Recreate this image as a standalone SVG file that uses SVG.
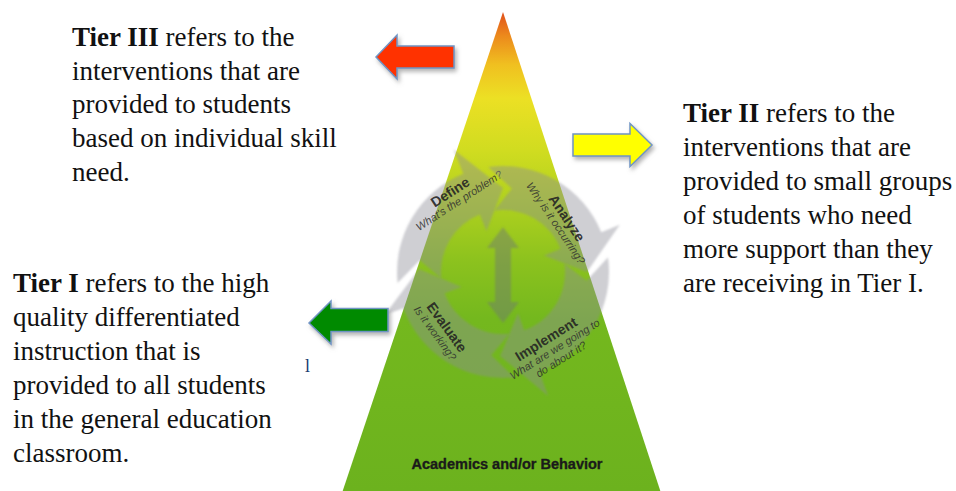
<svg xmlns="http://www.w3.org/2000/svg" width="956" height="491" viewBox="0 0 956 491">
  <style>
    .body { font-family: "Liberation Serif", "Times New Roman", serif; font-size: 27px; fill: #111; }
    .body .b { font-weight: bold; }
    .step { fill: rgb(140,140,150); fill-opacity: 0.42; filter: url(#soft); }
    .mid { fill: rgb(110,120,115); fill-opacity: 0.45; filter: url(#soft); }
    .ttl { font-family: "Liberation Sans", Arial, sans-serif; font-weight: bold; font-size: 14px; fill: #222; fill-opacity: 0.9; text-anchor: middle; }
    .sub { font-family: "Liberation Sans", Arial, sans-serif; font-style: italic; font-size: 11px; fill: #2d2d2d; fill-opacity: 0.85; text-anchor: middle; }
    .base { font-family: "Liberation Sans", Arial, sans-serif; font-weight: bold; font-size: 14.5px; fill: #1a1a1a; stroke: #1a1a1a; stroke-width: 0.35; text-anchor: middle; }
    .block { stroke: #6f94c4; stroke-width: 1.5; stroke-linejoin: miter; filter: url(#shadow); }
  </style>
  <defs>
    <linearGradient id="pyrFill" gradientUnits="userSpaceOnUse" x1="0" y1="12" x2="0" y2="491">
      <stop offset="0" stop-color="#e0501c"/>
      <stop offset="0.05" stop-color="#ec8a1c"/>
      <stop offset="0.11" stop-color="#f0c020"/>
      <stop offset="0.18" stop-color="#ece024"/>
      <stop offset="0.29" stop-color="#d0dc20"/>
      <stop offset="0.39" stop-color="#b2d21e"/>
      <stop offset="0.52" stop-color="#8cc21e"/>
      <stop offset="0.64" stop-color="#74b81e"/>
      <stop offset="1" stop-color="#6cb21e"/>
    </linearGradient>
    <filter id="shadow" x="-20%" y="-30%" width="150%" height="170%">
      <feDropShadow dx="2" dy="3" stdDeviation="2" flood-color="#808080" flood-opacity="0.6"/>
    </filter>
    <filter id="soft" x="-5%" y="-5%" width="110%" height="110%">
      <feGaussianBlur stdDeviation="0.8"/>
    </filter>
  </defs>

  <rect width="956" height="491" fill="#ffffff"/>

  <!-- pyramid -->
  <g id="pyramid">
    <polygon points="503,12 342,493 661,493" fill="url(#pyrFill)"/>
    <text class="base" x="507" y="469">Academics and/or Behavior</text>
  </g>

  <!-- problem-solving cycle drawn over the pyramid -->
  <g id="cycle">
    <g id="step-define">
      <path class="step" d="M397.6,283.1 A106,106 0 0 1 463.3,173.7 L453.6,149.6 L503,188 L486.5,231.2 L479.8,214.5 A62,62 0 0 0 441.3,278.5 L419.8,260.3 Z"/>
      <g transform="translate(450,192) rotate(-33)">
        <text class="ttl" x="0" y="5">Define</text>
        <text class="sub" x="3" y="16">What's the problem?</text>
      </g>
    </g>
    <g id="step-analyze">
      <path class="step" d="M488.2,167 A106,106 0 0 1 601.3,232.3 L619.8,224.8 L587,272 L543.8,255.5 L560.5,248.8 A62,62 0 0 0 494.4,210.6 L511.8,188.5 Z"/>
      <g transform="translate(567,218) rotate(56)">
        <text class="ttl" x="0" y="5">Analyze</text>
        <text class="sub" x="-2" y="16">Why is it occurring?</text>
      </g>
    </g>
    <g id="step-implement">
      <path class="step" d="M608,257.2 A106,106 0 0 1 539.3,371.6 L548.1,396 L500.1,355.9 L518,313.3 L524.2,330.3 A62,62 0 0 0 564.4,263.4 L586.5,280.8 Z"/>
      <g transform="translate(546,339) rotate(-32)">
        <text class="ttl" x="0" y="5">Implement</text>
        <text class="sub" x="2" y="17">What are we going to</text>
        <text class="sub" x="2" y="29">do about it?</text>
      </g>
    </g>
    <g id="step-evaluate">
      <path class="step" d="M514.1,377.4 A106,106 0 0 1 403.4,308.3 L384.6,315.1 L419.1,269.1 L461.7,287 L444.7,293.2 A62,62 0 0 0 509.5,333.7 L491.3,355.2 Z"/>
      <g transform="translate(447,327) rotate(54)">
        <text class="ttl" x="0" y="5">Evaluate</text>
        <text class="sub" x="-2" y="17">Is it working?</text>
      </g>
    </g>
    <path id="center-arrow" class="mid" d="M503,227 L519,248 L511,248 L511,302 L519,302 L503,323 L487,302 L495,302 L495,248 L487,248 Z"/>
  </g>

  <!-- tier pointers -->
  <g id="connectors">
    <path id="arrow-tier3" class="block" fill="#ff3000" d="M376,57 L397,35 L397,46 L454,46 L454,68 L397,68 L397,79 Z"/>
    <path id="arrow-tier2" class="block" fill="#ffff00" d="M573,134 L630,134 L630,123.5 L652,145 L630,166.5 L630,156 L573,156 Z"/>
    <path id="arrow-tier1" class="block" fill="#008a00" d="M309,323 L331,301 L331,308.5 L388,308.5 L388,331.5 L331,331.5 L331,344 Z"/>
  </g>

  <!-- tier descriptions -->
  <g id="tier3" class="body">
    <text x="72" y="46"><tspan class="b">Tier III</tspan> refers to the</text>
    <text x="72" y="79.5">interventions that are</text>
    <text x="72" y="113">provided to students</text>
    <text x="72" y="146.5">based on individual skill</text>
    <text x="72" y="180.5">need.</text>
  </g>

  <g id="tier2" class="body">
    <text x="683" y="122"><tspan class="b">Tier II</tspan> refers to the</text>
    <text x="683" y="156">interventions that are</text>
    <text x="683" y="190">provided to small groups</text>
    <text x="683" y="224">of students who need</text>
    <text x="683" y="258">more support than they</text>
    <text x="683" y="292">are receiving in Tier I.</text>
  </g>

  <g id="tier1" class="body">
    <text x="13" y="292"><tspan class="b">Tier I</tspan> refers to the high</text>
    <text x="13" y="326">quality differentiated</text>
    <text x="13" y="360">instruction that is</text>
    <text x="13" y="394">provided to all students</text>
    <text x="13" y="428">in the general education</text>
    <text x="13" y="462">classroom.</text>
  </g>

  <text id="stray-mark" x="305" y="372" font-family="Liberation Serif, serif" font-size="18" fill="#203a70">l</text>
</svg>
